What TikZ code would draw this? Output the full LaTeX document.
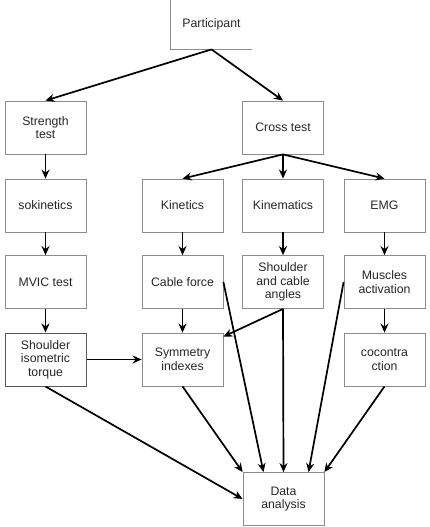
\documentclass[tikz,border=0pt]{standalone}
\usepackage{fontspec}
\setmainfont{Liberation Sans}
\usetikzlibrary{arrows.meta}
\begin{document}
\begin{tikzpicture}[x=1pt,y=-1pt,
  box/.style={draw=black!45, line width=0.8pt, minimum width=81pt, minimum height=53pt,
    align=center, inner sep=0pt, text=black!85, font=\fontsize{12.3}{13.5}\selectfont},
  darkbox/.style={box, draw=black!65, line width=1pt},
  arr/.style={line width=1.7pt, -{Stealth[length=9pt,width=8pt]}}]
\useasboundingbox (0,0) rectangle (429,527);
\node[box, draw=none, minimum height=50pt] (part) at (211.5,24) {Participant};
\draw[black!45, line width=0.8pt] (part.north west) -- (part.south west) -- (part.south east);
\node[box] (str) at (45.5,127.5) {Strength\\test};
\node[box] (cross) at (283,127.5) {Cross test};
\node[box] (sok) at (45.5,205.5) {sokinetics};
\node[box] (kin) at (182.5,205.5) {Kinetics};
\node[box] (kinem) at (283,205.5) {Kinematics};
\node[box] (emg) at (384.5,205.5) {EMG};
\node[box] (mvic) at (45.5,282) {MVIC test};
\node[box] (cable) at (182.5,282) {Cable force};
\node[box] (angles) at (283,282) {Shoulder\\and cable\\angles};
\node[box] (musc) at (384.5,282) {Muscles\\activation};
\node[darkbox] (torque) at (45.5,359.5) {Shoulder\\isometric\\torque};
\node[box] (sym) at (182.5,359.5) {Symmetry\\indexes};
\node[box] (cocon) at (384.5,359.5) {cocontra\\ction};
\node[box] (data) at (283.5,499) {Data\\analysis};

\draw[arr] (part.south) -- (str.north);
\draw[arr] (part.south) -- (cross.north);
\draw[arr] (str.south) -- (sok.north);
\draw[arr] (sok.south) -- (mvic.north);
\draw[arr] (mvic.south) -- (torque.north);
\draw[arr] (cross.south) -- (kin.north);
\draw[arr] (cross.south) -- (kinem.north);
\draw[arr] (cross.south) -- (emg.north);
\draw[arr] (kin.south) -- (cable.north);
\draw[arr] (kinem.south) -- (angles.north);
\draw[arr] (emg.south) -- (musc.north);
\draw[arr] (cable.south) -- (sym.north);
\draw[arr] (musc.south) -- (cocon.north);
\draw[arr] (angles.south) -- ([yshift=-4pt]sym.north east);
\draw[arr] (torque.east) -- (sym.west);
\draw[arr] (cable.east) -- ([xshift=-20pt]data.north);
\draw[arr] (angles.south) -- (data.north);
\draw[arr] (musc.west) -- ([xshift=25pt]data.north);
\draw[arr] (torque.south) -- (data.west);
\draw[arr] (sym.south) -- (data.north west);
\draw[arr] (cocon.south) -- (data.north east);
\end{tikzpicture}
\end{document}
